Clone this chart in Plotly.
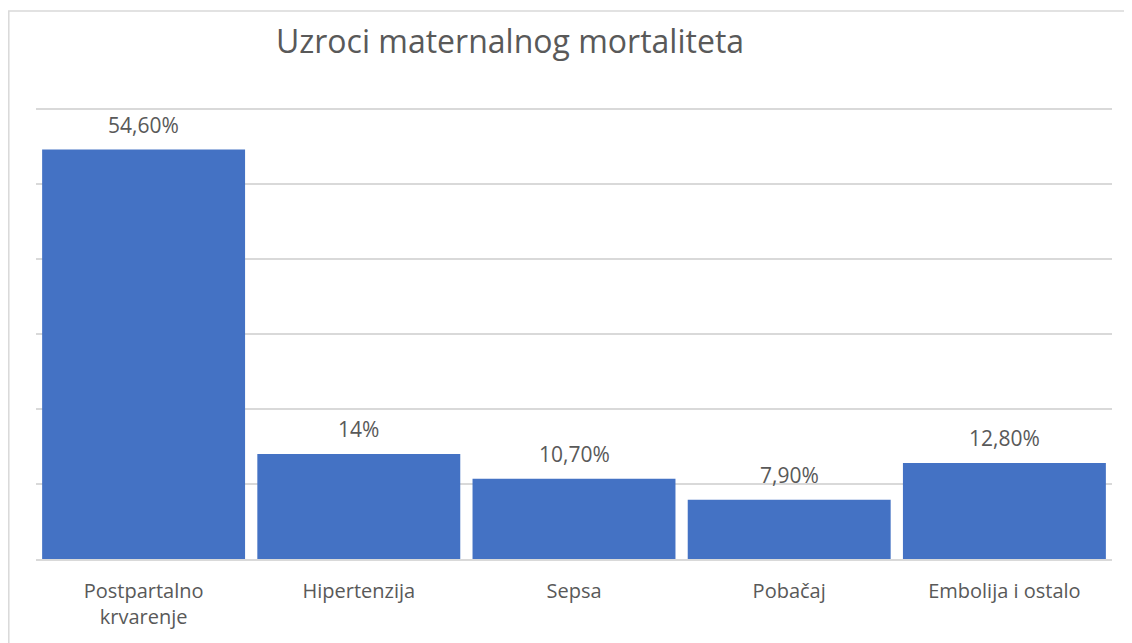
import plotly.graph_objects as go

categories = ["Postpartalno<br>krvarenje", "Hipertenzija", "Sepsa", "Pobačaj", "Embolija i ostalo"]
values = [54.6, 14, 10.7, 7.9, 12.8]
value_labels = ["54,60%", "14%", "10,70%", "7,90%", "12,80%"]
title_text = "Uzroci maternalnog mortaliteta"

OFF = 8  # default page body margin
PW, PH = 1132, 643
W, H = PW - OFF, PH - OFF
# target plot area in page pixels: x 36..1112, y 107..559 (gridline for 60 at y 109)
L, R, T, B = 36 - OFF, PW - 1112, 107 - OFF, PH - 559
pw, ph = W - L - R, H - T - B
ymax = 60 * ph / (ph - 2)

def px_x(p):
    return (p - OFF - L) / pw

def px_y(p):
    return (H - B - (p - OFF)) / ph

fig = go.Figure()
fig.add_trace(go.Bar(
    x=categories, y=values,
    marker=dict(color="#4472C4", line=dict(width=0)),
    hoverinfo="skip",
))

for c, v, t in zip(categories, values, value_labels):
    fig.add_annotation(x=c, y=v, text=t, showarrow=False, yanchor="bottom",
                       yshift=9, font=dict(family="Open Sans", size=21, color="#595959"))

fig.add_shape(type="rect", xref="paper", yref="paper",
              x0=px_x(8.8), x1=px_x(PW + 20), y0=px_y(PH + 20), y1=px_y(11),
              line=dict(color="#D9D9D9", width=1.5), fillcolor="rgba(0,0,0,0)", layer="below")

fig.update_layout(
    width=W, height=H,
    margin=dict(l=L, r=R, t=T, b=B),
    paper_bgcolor="white", plot_bgcolor="white",
    bargap=0.057,
    showlegend=False,
    title=dict(text=title_text, x=px_x(510), xref="paper", xanchor="center",
               y=1 - (42 - OFF) / H, yref="container", yanchor="middle",
               font=dict(family="Open Sans", size=32, color="#595959")),
    xaxis=dict(showline=True, linecolor="#D9D9D9", linewidth=1.5, ticks="",
               tickfont=dict(family="Open Sans", size=20, color="#595959"),
               ticklabelstandoff=13, fixedrange=True),
    yaxis=dict(range=[0, ymax], tickvals=[10, 20, 30, 40, 50, 60], showticklabels=False,
               gridcolor="#D9D9D9", gridwidth=1.5, zeroline=False, fixedrange=True),
)

fig.write_html("out.html")
